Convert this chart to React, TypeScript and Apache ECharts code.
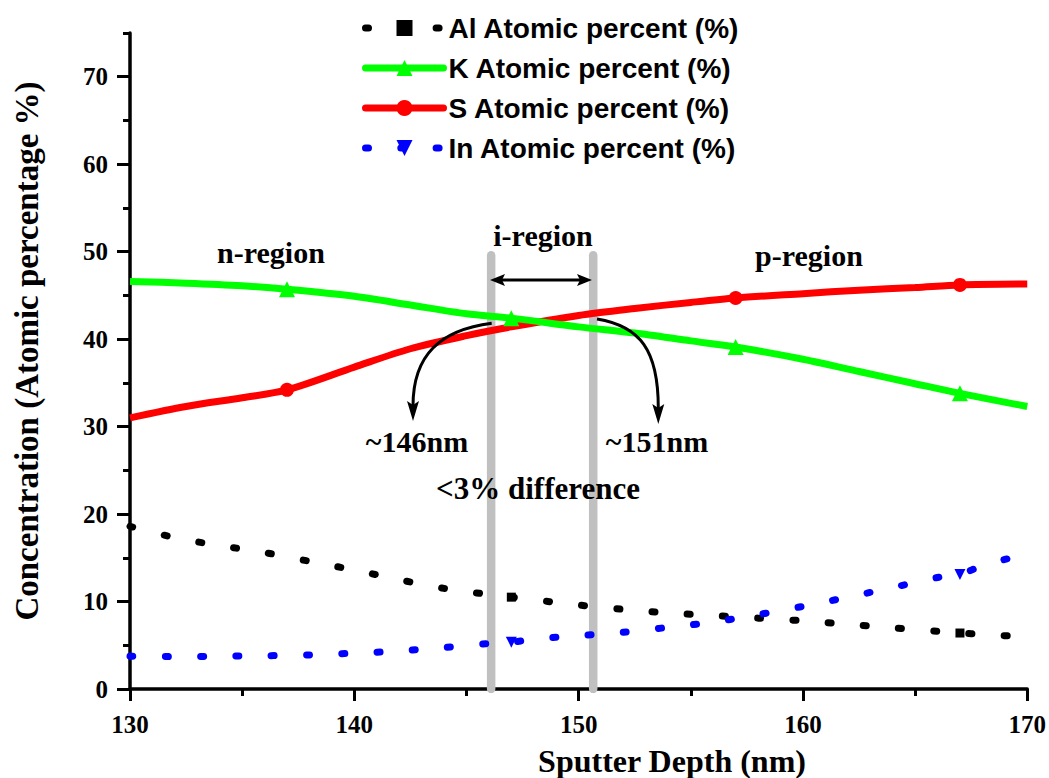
import React, { useEffect, useRef } from "react";
import * as echarts from "echarts";

// ---- data ----
const alX = [130, 132, 134, 136, 138, 140, 142, 144, 146, 147, 148, 150, 152, 154, 156, 158, 160, 162, 164, 166, 167, 168, 169.3];
const alY = [18.6, 17.3, 16.4, 15.6, 14.6, 13.6, 12.5, 11.5, 10.8, 10.5, 10.2, 9.6, 9.1, 8.7, 8.4, 8.1, 7.8, 7.4, 7.0, 6.6, 6.4, 6.25, 6.05];
const alMarks = [147, 167];

const inX = [130, 132, 134, 136, 138, 140, 142, 144, 146, 147, 148, 150, 152, 154, 156, 158, 160, 162, 164, 166, 167, 168, 169.3];
const inY = [3.75, 3.7, 3.75, 3.8, 3.9, 4.1, 4.35, 4.75, 5.2, 5.35, 5.7, 6.1, 6.5, 7.05, 7.65, 8.5, 9.45, 10.5, 11.6, 12.75, 13.1, 14.1, 15.0];
const inMarks = [147, 167];

const kX = [130, 132.5, 135, 137, 140, 142.5, 145, 147, 150, 152.5, 155, 157, 160, 162.5, 165, 167, 170];
const kY = [46.6, 46.4, 46.1, 45.7, 44.9, 43.9, 42.9, 42.4, 41.4, 40.7, 39.8, 39.1, 37.7, 36.3, 34.9, 33.8, 32.3];
const kMarks = [137, 147, 157, 167];

const sX = [130, 132.5, 135, 137, 140, 142.5, 145, 147, 150, 152.5, 155, 157, 160, 162.5, 165, 167, 170];
const sY = [31.0, 32.3, 33.3, 34.2, 36.8, 38.9, 40.4, 41.4, 42.7, 43.5, 44.2, 44.7, 45.2, 45.6, 45.9, 46.2, 46.3];
const sMarks = [137, 157, 167];

const boundaryX = [146.1, 150.65];
const boundaryTop = 49.6;

const yMajorTicks = [0, 10, 20, 30, 40, 50, 60, 70];
const yMinorTicks = [5, 15, 25, 35, 45, 55, 65, 75];

const names = ["Al Atomic percent (%)", "K Atomic percent (%)", "S Atomic percent (%)", "In Atomic percent (%)"];

const SERIF = '"Liberation Serif", "Times New Roman", serif';
const SANS = '"Liberation Sans", Arial, sans-serif';

function buildData(xs: number[], ys: number[], marks: number[]) {
  return xs.map((x, i) =>
    marks.includes(x) ? { value: [x, ys[i]] } : { value: [x, ys[i]], symbol: "none" }
  );
}

export default function App() {
  const ref = useRef<HTMLDivElement>(null);

  useEffect(() => {
    if (!ref.current) return;
    const chart = echarts.init(ref.current, undefined, { renderer: "svg" });

    const textEl = (text: string, x: number, y: number, size = 30) => ({
      type: "text",
      x,
      y,
      z: 100,
      style: {
        text,
        font: `bold ${size}px ${SERIF}`,
        fill: "#000",
        align: "center",
        verticalAlign: "middle",
      },
    });

    const labelStyle = { color: "#000", fontFamily: SERIF, fontWeight: 700, fontSize: 25 };

    const option: any = {
      animation: false,
      backgroundColor: "#fff",
      grid: { left: 130, right: 16, top: 33, bottom: 89, containLabel: false },
      legend: {
        data: names,
        orient: "vertical",
        left: 362,
        top: 14,
        padding: 0,
        itemWidth: 78,
        itemHeight: 20,
        itemGap: 12,
        selectedMode: false,
        lineStyle: { width: 7, cap: "round" },
        textStyle: { fontFamily: SANS, fontWeight: "bold", fontSize: 28, color: "#000" },
      },
      xAxis: {
        type: "value",
        min: 130,
        max: 170,
        interval: 10,
        axisLine: { show: true, onZero: false, lineStyle: { color: "#000", width: 3.5 } },
        axisTick: { show: true, inside: false, length: 12, lineStyle: { color: "#000", width: 3 } },
        minorTick: { show: true, splitNumber: 2, length: 7, lineStyle: { color: "#000", width: 3 } },
        splitLine: { show: false },
        axisLabel: { ...labelStyle, margin: 23 },
      },
      yAxis: [
        {
          type: "value",
          min: 0,
          max: 75,
          interval: 10,
          position: "left",
          axisLine: { show: true, onZero: false, lineStyle: { color: "#000", width: 3.5 } },
          axisTick: { show: true, inside: false, length: 13, customValues: yMajorTicks, lineStyle: { color: "#000", width: 3 } },
          splitLine: { show: false },
          axisLabel: { ...labelStyle, margin: 22, customValues: yMajorTicks },
        },
        {
          type: "value",
          min: 0,
          max: 75,
          position: "left",
          axisLine: { show: false },
          axisTick: { show: true, inside: false, length: 7, customValues: yMinorTicks, lineStyle: { color: "#000", width: 3 } },
          splitLine: { show: false },
          axisLabel: { show: false },
        },
      ],
      series: [
        ...boundaryX.map((bx, i) => ({
          name: "boundary" + i,
          type: "line",
          silent: true,
          z: 1,
          symbol: "none",
          data: [[bx, 0], [bx, boundaryTop]],
          lineStyle: { color: "#c0c0c0", width: 8.5, cap: "round" },
        })),
        {
          name: names[0],
          type: "line",
          z: 3,
          data: buildData(alX, alY, alMarks),
          symbol: "rect",
          symbolSize: 9,
          smooth: 0.3,
          color: "#000",
          itemStyle: { color: "#000" },
          lineStyle: { color: "#000", width: 7, type: [3, 32.3], cap: "round" },
        },
        {
          name: names[3],
          type: "line",
          z: 4,
          data: buildData(inX, inY, inMarks),
          symbol: "triangle",
          symbolRotate: 180,
          symbolSize: 11,
          smooth: 0.3,
          color: "#0000ff",
          itemStyle: { color: "#0000ff" },
          lineStyle: { color: "#0000ff", width: 7, type: [3, 32.3], cap: "round" },
        },
        {
          name: names[2],
          type: "line",
          z: 5,
          data: buildData(sX, sY, sMarks),
          symbol: "circle",
          symbolSize: 14,
          smooth: 0.3,
          color: "#ff0000",
          itemStyle: { color: "#ff0000" },
          lineStyle: { color: "#ff0000", width: 7 },
        },
        {
          name: names[1],
          type: "line",
          z: 6,
          data: buildData(kX, kY, kMarks),
          symbol: "triangle",
          symbolSize: 16,
          smooth: 0.3,
          color: "#00ff00",
          itemStyle: { color: "#00ff00" },
          lineStyle: { color: "#00ff00", width: 7 },
        },
      ],
      graphic: [
        // axis titles
        {
          type: "text",
          x: 672,
          y: 761,
          style: { text: "Sputter Depth (nm)", font: `bold 32px ${SERIF}`, fill: "#000", align: "center", verticalAlign: "middle" },
        },
        {
          type: "text",
          x: 27,
          y: 351,
          rotation: Math.PI / 2,
          style: { text: "Concentration (Atomic percentage %)", font: `bold 33px ${SERIF}`, fill: "#000", align: "center", verticalAlign: "middle" },
        },
        // region labels
        textEl("n-region", 271, 252),
        textEl("i-region", 543, 235),
        textEl("p-region", 809, 255),
        textEl("~146nm", 417, 441),
        textEl("~151nm", 657, 441),
        textEl("<3% difference", 538, 488, 31),
        // double arrow
        {
          type: "line",
          z: 100,
          shape: { x1: 500, y1: 280, x2: 582, y2: 280 },
          style: { stroke: "#000", lineWidth: 3 },
        },
        {
          type: "polygon",
          z: 100,
          shape: { points: [[490, 280], [505, 274], [502, 280], [505, 286]] },
          style: { fill: "#000" },
        },
        {
          type: "polygon",
          z: 100,
          shape: { points: [[592, 280], [577, 274], [580, 280], [577, 286]] },
          style: { fill: "#000" },
        },
        // curved arrows
        {
          type: "bezierCurve",
          z: 100,
          shape: { x1: 491.7, y1: 323.3, cpx1: 440, cpy1: 330, cpx2: 413, cpy2: 355, x2: 413, y2: 406 },
          style: { stroke: "#000", lineWidth: 3, fill: "none" },
        },
        {
          type: "polygon",
          z: 100,
          shape: { points: [[413, 421], [407, 401], [413, 405], [419, 401]] },
          style: { fill: "#000" },
        },
        {
          type: "bezierCurve",
          z: 100,
          shape: { x1: 597, y1: 319, cpx1: 640, cpy1: 326, cpx2: 658.3, cpy2: 350, x2: 658.3, y2: 408 },
          style: { stroke: "#000", lineWidth: 3, fill: "none" },
        },
        {
          type: "polygon",
          z: 100,
          shape: { points: [[658.3, 424], [652.3, 404], [658.3, 408], [664.3, 404]] },
          style: { fill: "#000" },
        },
      ],
    };

    chart.setOption(option);
    return () => chart.dispose();
  }, []);

  return (
    <div
      ref={ref}
      style={{ position: "fixed", left: 0, top: 0, width: 1049, height: 778, background: "#fff" }}
    />
  );
}
